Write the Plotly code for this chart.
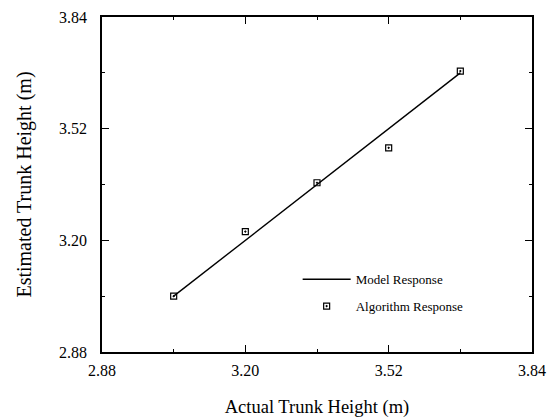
import plotly.graph_objects as go

# Actual vs. estimated trunk height (m)
actual_height = [3.04, 3.20, 3.36, 3.52, 3.68]
estimated_height = [3.04, 3.225, 3.365, 3.465, 3.685]

# Ideal model response: estimate equals actual
model_x = [3.04, 3.68]
model_y = [3.04, 3.68]

tick_vals = [2.88, 3.20, 3.52, 3.84]
tick_text = ["2.88", "3.20", "3.52", "3.84"]

SERIF = "Liberation Serif, Times New Roman, serif"

fig = go.Figure()
fig.add_trace(go.Scatter(
    x=model_x, y=model_y, mode="lines", name="Model Response",
    legendgroup="model",
    line=dict(color="black", width=1.4),
))
fig.add_trace(go.Scatter(
    x=actual_height, y=estimated_height, mode="markers", name="Algorithm Response",
    legendgroup="algo",
    marker=dict(symbol="square-open-dot", size=6, color="black",
                line=dict(color="black", width=1.2)),
))

axis_common = dict(
    range=[2.88, 3.84],
    tickmode="array",
    tickvals=tick_vals,
    ticktext=tick_text,
    ticks="inside",
    ticklen=7,
    tickwidth=1.2,
    tickcolor="black",
    showline=True,
    linecolor="black",
    linewidth=1.6,
    mirror="allticks",
    showgrid=False,
    zeroline=False,
    automargin=False,
    tickfont=dict(family=SERIF, size=16, color="black"),
    minor=dict(tickvals=[3.04, 3.36, 3.68], ticks="inside", ticklen=3,
               tickwidth=1.2, tickcolor="black", showgrid=False),
)

fig.update_xaxes(
    **axis_common,
    ticklabelstandoff=3,
    title=dict(text="Actual Trunk Height (m)", standoff=28,
               font=dict(family=SERIF, size=18.5, color="black")),
)
fig.update_yaxes(
    **axis_common,
    ticklabelstandoff=10,
    title=dict(text="Estimated Trunk Height (m)", standoff=22,
               font=dict(family=SERIF, size=20, color="black")),
)

fig.update_layout(
    width=552, height=418,
    margin=dict(l=102, r=20, t=17, b=66),
    paper_bgcolor="white",
    plot_bgcolor="white",
    showlegend=True,
    legend=dict(
        x=0.455, y=0.262, xanchor="left", yanchor="top",
        bgcolor="rgba(0,0,0,0)",
        font=dict(family=SERIF, size=13, color="black"),
        tracegroupgap=7,
        itemwidth=48,
    ),
)

fig.write_html("out.html")
